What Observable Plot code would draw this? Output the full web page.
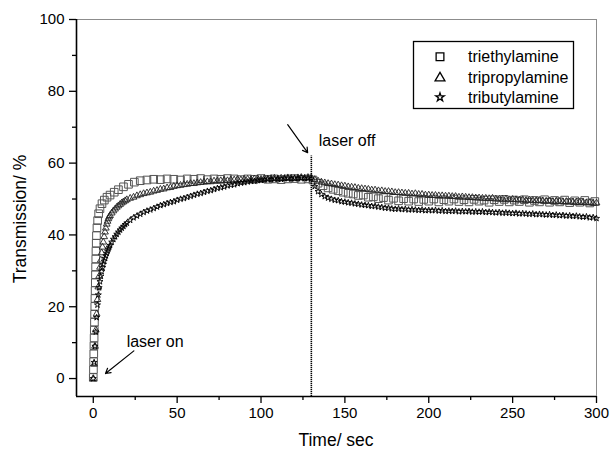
<!DOCTYPE html>
<html><head><meta charset="utf-8">
<script src="https://cdn.jsdelivr.net/npm/d3@7"></script>
<script src="https://cdn.jsdelivr.net/npm/@observablehq/plot@0.6"></script>
<style>body{margin:0;background:#fff}#chart{width:610px;height:451px}</style>
</head><body><div id="chart"></div>
<script>
// [time (s), transmission (%)]
const triethylamine = [[0,0.3],[0.1,2.5],[0.2,4.7],[0.3,6.9],[0.4,9.1],[0.5,11.3],[0.6,13.5],[0.7,15.7],[0.8,17.9],[0.9,20.1],[1.0,22.3],[1.1,24.5],[1.2,26.7],[1.3,28.9],[1.4,31.1],[1.5,33.3],[1.6,35.5],[1.75,37.7],[1.9,39.8],[2.2,42],[2.6,44],[3.2,45.9],[4,47.3],[5.2,48.7],[6.6,49.7],[8.2,50.5],[10,51.1],[12.5,51.9],[15,52.6],[18,53.4],[21,54.1],[24.5,54.7],[28,55.1],[32,55.3],[36,55.5],[40,55.4],[44,55.6],[48,55.5],[52,55.3],[56,55.6],[60,55.5],[64,55.7],[68,55.4],[72,55.6],[76,55.5],[80,55.7],[84,55.6],[88,55.4],[92,55.6],[96,55.5],[100,55.7],[104,55.5],[108,55.6],[112,55.4],[116,55.6],[120,55.7],[124,55.5],[128,55.6],[131,55.3],[134,54.4],[137,53.7],[140,53.1],[143,52.7],[146,52.3],[149,51.9],[152,51.6],[155,51.4],[158,51.0],[161,51.1],[164,50.5],[167,50.6],[170,50.1],[173,50.4],[176,49.7],[179,50.2],[182,49.5],[185,50.1],[188,49.4],[191,50.0],[194,49.3],[197,49.9],[200,49.4],[203,50.0],[206,49.2],[209,49.8],[212,49.4],[215,50.0],[218,49.3],[221,49.8],[224,49.2],[227,49.9],[230,49.4],[233,49.7],[236,49.1],[239,49.8],[242,49.3],[245,49.9],[248,49.2],[251,49.7],[254,49.3],[257,49.8],[260,49.1],[263,49.6],[266,49.2],[269,49.8],[272,49.1],[275,49.6],[278,49.2],[281,49.7],[284,49.0],[287,49.5],[290,49.1],[293,49.6],[296,48.9],[299,49.3]];

const tripropylamine = [[0,0],[0.5,4],[1,9],[1.5,13.5],[2,18],[2.5,22],[3,25.5],[3.5,28.5],[4,31],[4.5,33],[5,35],[5.5,36.6],[6,38],[6.5,39.5],[7,40.8],[7.5,41.9],[8,43],[8.5,43.8],[9,44.5],[9.5,45],[10,45.4],[11,46.1],[12,46.7],[13,47.2],[14,47.7],[15,48.1],[16,48.5],[17,48.9],[18,49.2],[19,49.5],[20,49.8],[22,50.2],[24,50.5],[26,50.9],[28,51.2],[30,51.5],[32,51.7],[34,51.9],[36,52.2],[38,52.4],[40,52.7],[42,52.8],[44,53.1],[46,53.2],[48,53.5],[50,53.7],[52,53.8],[54,54.0],[56,54.1],[58,54.3],[60,54.3],[62,54.5],[64,54.6],[66,54.7],[68,54.8],[70,54.8],[72,55.0],[74,55.0],[76,55.1],[78,55.2],[80,55.1],[82,55.3],[84,55.3],[86,55.4],[88,55.3],[90,55.5],[92,55.5],[94,55.4],[96,55.6],[98,55.6],[100,55.5],[102,55.7],[104,55.6],[106,55.7],[108,55.8],[110,55.6],[112,55.8],[114,55.7],[116,55.9],[118,55.8],[120,55.7],[122,55.9],[124,56.0],[126,55.8],[128,56.0],[130,55.9],[132,55.4],[134,55.0],[136,54.7],[138,54.5],[140,54.3],[142,54.2],[144,54.0],[146,53.9],[148,53.7],[150,53.6],[152,53.4],[154,53.3],[156,53.2],[158,53.0],[160,52.9],[162,52.8],[164,52.7],[166,52.5],[168,52.5],[170,52.3],[172,52.3],[174,52.1],[176,52.1],[178,52.0],[180,51.8],[182,51.8],[184,51.7],[186,51.6],[188,51.6],[190,51.4],[192,51.5],[194,51.3],[196,51.3],[198,51.1],[200,51.1],[202,51.0],[204,51.0],[206,50.9],[208,50.9],[210,50.8],[212,50.8],[214,50.7],[216,50.7],[218,50.5],[220,50.6],[222,50.5],[224,50.4],[226,50.4],[228,50.3],[230,50.3],[232,50.2],[234,50.2],[236,50.1],[238,50.2],[240,50.0],[242,50.0],[244,49.9],[246,50.0],[248,49.8],[250,49.9],[252,49.8],[254,49.7],[256,49.8],[258,49.6],[260,49.7],[262,49.6],[264,49.5],[266,49.6],[268,49.5],[270,49.4],[272,49.5],[274,49.3],[276,49.4],[278,49.3],[280,49.2],[282,49.3],[284,49.1],[286,49.2],[288,49.1],[290,49.0],[292,49.1],[294,48.9],[296,49.0],[298,48.8],[300,48.9]];

const tributylamine = [[0,0],[0.5,4.5],[1,9],[1.5,13],[2,17],[2.5,20.5],[3,23.3],[3.5,25.3],[4,27],[4.5,28.5],[5,29.8],[5.5,30.9],[6,31.8],[6.5,32.7],[7,33.5],[7.5,34.2],[8,34.9],[8.5,35.5],[9,36.1],[9.5,36.6],[10,37.1],[11,38.0],[12,38.8],[13,39.5],[14,40.2],[15,40.8],[16,41.4],[17,41.9],[18,42.4],[19,42.9],[20,43.3],[22,44.1],[24,44.8],[26,45.3],[28,45.8],[30,46.3],[32,46.7],[34,47.0],[36,47.4],[38,47.8],[40,48.2],[42,48.5],[44,48.8],[46,49.1],[48,49.3],[50,49.7],[52,50.0],[54,50.2],[56,50.5],[58,50.8],[60,51.1],[62,51.4],[64,51.6],[66,51.9],[68,52.2],[70,52.4],[72,52.7],[74,53.0],[76,53.2],[78,53.4],[80,53.7],[82,53.9],[84,54.0],[86,54.3],[88,54.5],[90,54.6],[92,54.8],[94,55.0],[96,55.0],[98,55.2],[100,55.3],[102,55.3],[104,55.5],[106,55.4],[108,55.6],[110,55.6],[112,55.5],[114,55.7],[116,55.8],[118,55.6],[120,55.8],[122,55.7],[124,55.9],[126,55.7],[128,55.8],[130,55.6],[132,53.5],[134,52.1],[136,51.3],[138,50.7],[140,50.3],[142,50.0],[144,49.7],[146,49.6],[148,49.3],[150,49.2],[152,49.0],[154,48.9],[156,48.7],[158,48.6],[160,48.4],[162,48.3],[164,48.2],[166,48.0],[168,48.0],[170,47.8],[172,47.7],[174,47.5],[176,47.5],[178,47.3],[180,47.2],[182,47.3],[184,47.1],[186,47.2],[188,47.0],[190,47.1],[192,47.0],[194,46.9],[196,47.0],[198,46.8],[200,46.9],[202,46.8],[204,46.9],[206,46.7],[208,46.8],[210,46.6],[212,46.7],[214,46.6],[216,46.7],[218,46.5],[220,46.6],[222,46.5],[224,46.6],[226,46.4],[228,46.5],[230,46.4],[232,46.5],[234,46.3],[236,46.4],[238,46.3],[240,46.2],[242,46.3],[244,46.1],[246,46.2],[248,46.1],[250,46.0],[252,46.1],[254,45.9],[256,46.0],[258,45.9],[260,45.8],[262,45.9],[264,45.7],[266,45.8],[268,45.7],[270,45.6],[272,45.7],[274,45.5],[276,45.6],[278,45.4],[280,45.5],[282,45.3],[284,45.4],[286,45.2],[288,45.3],[290,45.1],[292,45.0],[294,45.1],[296,44.8],[298,44.9],[300,44.6]];

const seriesNames = ["triethylamine", "tripropylamine", "tributylamine"];
const xTicks = [0, 50, 100, 150, 200, 250, 300];
const xMinorTicks = [25, 75, 125, 175, 225, 275];
const yTicks = [0, 20, 40, 60, 80, 100];
const yMinorTicks = [10, 30, 50, 70, 90];
const xTitle = "Time/ sec";
const yTitle = "Transmission/ %";
const laserOff = [{t: 130, top: 62}];
const notes = [{label: "laser on", t: 19.9, v: 8.8}, {label: "laser off", t: 134.4, v: 64.9}];
const arrows = [{t1: 24.2, v1: 7.7, t2: 7.3, v2: 1.4}, {t1: 115.9, v1: 70.7, t2: 127.8, v2: 62.9}];

const FONT = "'Liberation Sans', Arial, Helvetica, sans-serif";
const pts = (arr) => arr.map(([t, v]) => ({t, v}));

const plot = Plot.plot({
  width: 610, height: 451,
  marginLeft: 76, marginRight: 14, marginTop: 19, marginBottom: 55,
  style: {fontFamily: FONT, fontSize: "15px", background: "white", color: "black"},
  x: {domain: [-10, 300]},
  y: {domain: [-5, 100]},
  marks: [
    Plot.ruleY([100], {stroke: "#8c8c8c", strokeWidth: 1}),
    Plot.ruleX([300], {stroke: "#8c8c8c", strokeWidth: 1}),
    Plot.axisX({ticks: xTicks, tickSize: 7, tickPadding: 4, strokeWidth: 1.3, label: null, fontSize: 15}),
    Plot.axisX({ticks: xMinorTicks, tickSize: 4, strokeWidth: 1.3, tickFormat: () => "", label: null}),
    Plot.axisY({ticks: yTicks, tickSize: 7, tickPadding: 5, strokeWidth: 1.3, label: null, fontSize: 15}),
    Plot.axisY({ticks: yMinorTicks, tickSize: 4, strokeWidth: 1.3, tickFormat: () => "", label: null}),
    Plot.dot(pts(triethylamine), {x: "t", y: "v", symbol: "square", r: 4.3, fill: "none", stroke: "#555", strokeWidth: 1}),
    Plot.dot(pts(tripropylamine), {x: "t", y: "v", symbol: "triangle", r: 2.5, fill: "none", stroke: "#222", strokeWidth: 0.9}),
    Plot.dot(pts(tributylamine), {x: "t", y: "v", symbol: "star", r: 1.9, fill: "none", stroke: "#000", strokeWidth: 0.9}),
    Plot.ruleX(laserOff, {x: "t", y1: -5, y2: "top", stroke: "black", strokeWidth: 1.6, strokeDasharray: "1.2,0.8"}),
    Plot.arrow(arrows, {x1: "t1", y1: "v1", x2: "t2", y2: "v2", bend: 0, headLength: 7, stroke: "black", strokeWidth: 1.2}),
    Plot.text(notes, {x: "t", y: "v", text: "label", textAnchor: "start", lineAnchor: "bottom", fontSize: 16, fill: "black"}),
    Plot.ruleY([-5], {stroke: "black", strokeWidth: 1.6}),
    Plot.ruleX([-10], {stroke: "black", strokeWidth: 1.6})
  ]
});
document.getElementById("chart").appendChild(plot);

const svg = d3.select(plot);
svg.append("text").attr("x", 336).attr("y", 446).attr("text-anchor", "middle")
  .attr("font-family", FONT).attr("font-size", 17.5).attr("fill", "black").text(xTitle);
svg.append("text").attr("transform", "translate(26,219) rotate(-90)").attr("text-anchor", "middle")
  .attr("font-family", FONT).attr("font-size", 17.5).attr("fill", "black").text(yTitle);

const lg = svg.append("g");
lg.append("rect").attr("x", 413.5).attr("y", 41.5).attr("width", 160).attr("height", 67)
  .attr("fill", "white").attr("stroke", "black").attr("stroke-width", 1.3);
const legSym = [d3.symbol(d3.symbolSquare, 60), d3.symbol(d3.symbolTriangle, 42), d3.symbol(d3.symbolStar, 22)];
const legY = [56.7, 77, 97.3];
seriesNames.forEach((name, i) => {
  lg.append("path").attr("d", legSym[i]()).attr("transform", `translate(440,${legY[i] + (i === 1 ? 1 : 0)})`)
    .attr("fill", "none").attr("stroke", "black").attr("stroke-width", 1.3);
  lg.append("text").attr("x", 468).attr("y", legY[i] + 5.7).attr("text-anchor", "start").attr("font-family", FONT)
    .attr("font-size", 16).attr("fill", "black").text(name);
});
</script>
</body></html>
